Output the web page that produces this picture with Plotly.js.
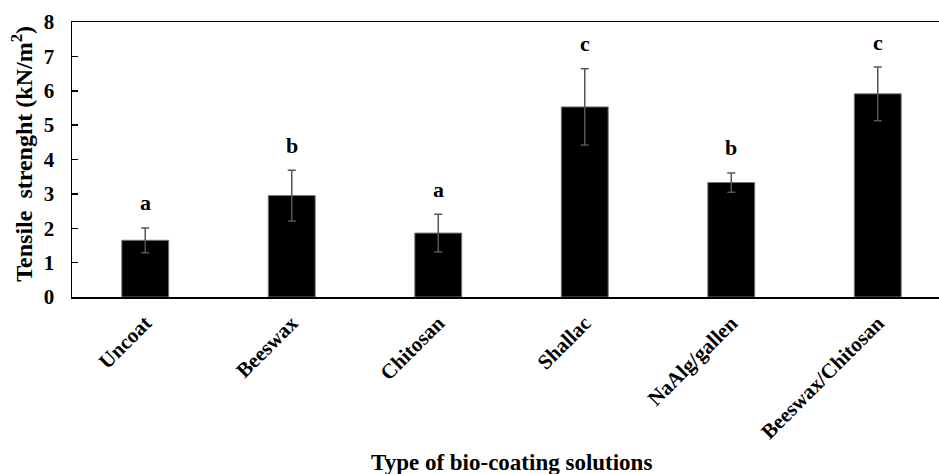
<!DOCTYPE html>
<html>
<head>
<meta charset="utf-8">
<script src="https://cdn.plot.ly/plotly-3.0.1.min.js"></script>
<style>html,body{margin:0;padding:0;background:#fff;}#chart{width:939px;height:474px;}</style>
</head>
<body>
<div id="chart"></div>
<script>
const categories = ["Uncoat", "Beeswax", "Chitosan", "Shallac", "NaAlg/gallen", "Beeswax/Chitosan"];
const tensileStrength = [1.65, 2.95, 1.86, 5.53, 3.33, 5.91];
const stdError = [0.36, 0.74, 0.55, 1.11, 0.28, 0.78];
const groupLetters = ["a", "b", "a", "c", "b", "c"];
const yTicks = [0, 1, 2, 3, 4, 5, 6, 7, 8];

const FONT = "Liberation Serif";

const trace = {
  type: "bar",
  x: categories,
  y: tensileStrength,
  marker: {color: "#000000", line: {color: "#777777", width: 1}},
  error_y: {type: "data", array: stdError, visible: true, color: "#555555", thickness: 1.5, width: 4},
  hoverinfo: "none"
};

const annotations = categories.map((c, i) => ({
  x: c, y: tensileStrength[i] + stdError[i], xref: "x", yref: "y",
  text: "<b>" + groupLetters[i] + "</b>", showarrow: false,
  yanchor: "middle", yshift: 25,
  font: {family: FONT, size: 22, color: "#000"}
}));
annotations.push({
  xref: "paper", yref: "paper", x: -0.058, y: 0.52,
  text: "<b>Tensile  strenght (kN/m<sup>2</sup>)</b>", textangle: -90,
  showarrow: false, xanchor: "center", yanchor: "middle",
  font: {family: FONT, size: 24, color: "#000"}
});
annotations.push({
  xref: "paper", yref: "paper", x: 0.507, y: -0.6,
  text: "<b>Type of bio-coating solutions</b>",
  showarrow: false, xanchor: "center", yanchor: "middle",
  font: {family: FONT, size: 23, color: "#000"}
});

const layout = {
  width: 939, height: 474,
  margin: {l: 72, r: 0, t: 22, b: 177, pad: 0},
  paper_bgcolor: "#fff", plot_bgcolor: "#fff",
  showlegend: false,
  bargap: 0.68,
  xaxis: {
    type: "category",
    range: [-0.5, 5.418],
    showline: true, mirror: true, linecolor: "#000", linewidth: 1.5,
    ticks: "", tickangle: -45, showgrid: false, zeroline: false,
    ticklabelstandoff: 4,
    tickfont: {family: FONT, size: 21, color: "#000", weight: "bold"},
    automargin: false
  },
  yaxis: {
    range: [0, 8], tickvals: yTicks, ticktext: yTicks.map(String),
    showline: true, linecolor: "#000", linewidth: 1.5,
    ticks: "inside", ticklen: 6, tickcolor: "#000", tickwidth: 1.5,
    showgrid: false, zeroline: false,
    ticklabelstandoff: 12,
    tickfont: {family: FONT, size: 21, color: "#000", weight: "bold"},
    automargin: false
  },
  annotations: annotations
};

Plotly.newPlot("chart", [trace], layout, {displayModeBar: false, staticPlot: true});
</script>
</body>
</html>
